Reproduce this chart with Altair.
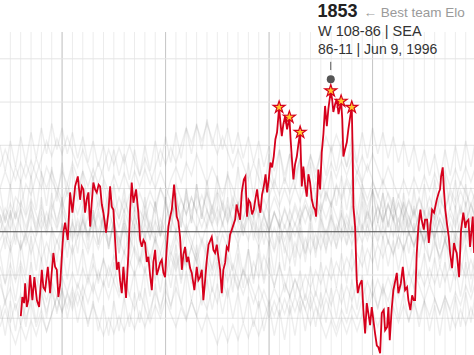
import altair as alt
import pandas as pd

X_DOMAIN = [1964.0, 2009.8]
Y_DOMAIN = [1215, 1962]

MINOR_YEARS = list(range(1965, 2010))
MAJOR_YEARS = [1970, 1980, 1990, 2000]
GRID_ELO = [1300, 1400, 1600, 1700, 1800, 1900]
BASE_ELO = [1500]

RED_YEAR = [
    1966.01, 1966.16, 1966.33, 1966.43, 1966.59, 1966.74, 1966.91, 1967.13, 1967.32, 1967.56,
    1967.78, 1968.04, 1968.19, 1968.36, 1968.62, 1968.84, 1969.00, 1969.16, 1969.32, 1969.49,
    1969.64, 1969.81, 1969.97, 1970.13, 1970.29, 1970.55, 1970.77, 1971.00, 1971.26, 1971.52,
    1971.74, 1971.90, 1972.06, 1972.22, 1972.37, 1972.54, 1972.71, 1972.85, 1973.02, 1973.19,
    1973.35, 1973.53, 1973.67, 1973.84, 1973.99, 1974.25, 1974.47, 1974.64, 1974.80, 1974.96,
    1975.12, 1975.29, 1975.46, 1975.60, 1975.77, 1975.92, 1976.18, 1976.41, 1976.57, 1976.73,
    1976.89, 1977.15, 1977.37, 1977.54, 1977.70, 1977.86, 1978.02, 1978.18, 1978.34, 1978.50,
    1978.67, 1978.82, 1978.99, 1979.15, 1979.30, 1979.47, 1979.63, 1979.79, 1979.95, 1980.10,
    1980.27, 1980.43, 1980.60, 1980.82, 1981.08, 1981.24, 1981.40, 1981.57, 1981.72, 1981.88,
    1982.05, 1982.20, 1982.37, 1982.53, 1982.78, 1983.01, 1983.17, 1983.33, 1983.50, 1983.65,
    1983.82, 1983.98, 1984.15, 1984.46, 1984.62, 1984.78, 1984.95, 1985.10, 1985.27, 1985.43,
    1985.58, 1985.75, 1985.91, 1986.07, 1986.23, 1986.40, 1986.55, 1986.72, 1986.86, 1987.03,
    1987.20, 1987.36, 1987.56, 1987.71, 1987.87, 1988.02, 1988.19, 1988.36, 1988.52, 1988.70,
    1988.84, 1989.01, 1989.16, 1989.32, 1989.49, 1989.66, 1989.81, 1989.97, 1990.13, 1990.29,
    1990.45, 1990.61, 1990.77, 1990.97, 1991.11, 1991.23, 1991.38, 1991.55, 1991.74, 1991.96,
    1992.08, 1992.19, 1992.35, 1992.51, 1992.68, 1992.83, 1993.00, 1993.16, 1993.31, 1993.48,
    1993.64, 1993.80, 1993.96, 1994.13, 1994.28, 1994.44, 1994.54, 1994.66, 1994.76, 1994.93,
    1995.09, 1995.25, 1995.41, 1995.58, 1995.73, 1995.96, 1996.09, 1996.21, 1996.38, 1996.54,
    1996.71, 1996.96, 1997.07, 1997.18, 1997.34, 1997.51, 1997.66, 1997.83, 1997.99, 1998.07,
    1998.15, 1998.31, 1998.47, 1998.57, 1998.74, 1998.96, 1999.11, 1999.28, 1999.44, 1999.59,
    1999.76, 1999.92, 2000.08, 2000.24, 2000.41, 2000.56, 2000.73, 2000.89, 2001.08, 2001.21,
    2001.40, 2001.53, 2001.66, 2001.84, 2002.01, 2002.17, 2002.34, 2002.49, 2002.73, 2002.92,
    2003.14, 2003.33, 2003.46, 2003.65, 2003.82, 2003.98, 2004.11, 2004.27, 2004.43, 2004.62,
    2004.74, 2004.95, 2005.07, 2005.27, 2005.43, 2005.60, 2005.75, 2005.94, 2006.20, 2006.40,
    2006.52, 2006.62, 2006.78, 2006.89, 2007.03, 2007.20, 2007.36, 2007.49, 2007.68, 2007.87,
    2008.02, 2008.13, 2008.36, 2008.55, 2008.77, 2008.97, 2009.08, 2009.26, 2009.42, 2009.68,
    2009.81,
]
RED_ELO = [
    1305, 1349, 1335, 1381, 1326, 1342, 1400, 1342, 1395, 1342,
    1326, 1412, 1372, 1365, 1419, 1358, 1407, 1451, 1419, 1412,
    1349, 1377, 1442, 1500, 1521, 1481, 1591, 1544, 1605, 1628,
    1574, 1605, 1598, 1544, 1574, 1591, 1512, 1563, 1614, 1598,
    1591, 1609, 1605, 1563, 1544, 1498, 1544, 1605, 1558, 1551,
    1481, 1412, 1430, 1388, 1358, 1419, 1347, 1451, 1551, 1614,
    1567, 1598, 1544, 1481, 1465, 1481, 1474, 1430, 1442, 1400,
    1365, 1430, 1458, 1400, 1412, 1428, 1435, 1405, 1395, 1458,
    1512, 1533, 1551, 1609, 1535, 1523, 1488, 1412, 1447, 1465,
    1430, 1442, 1416, 1405, 1365, 1419, 1388, 1395, 1412, 1342,
    1388, 1435, 1470, 1488, 1458, 1451, 1470, 1442, 1412, 1358,
    1412, 1428, 1465, 1458, 1493, 1505, 1516, 1528, 1563, 1544,
    1528, 1591, 1621, 1628, 1535, 1574, 1567, 1540, 1551, 1579,
    1598, 1563, 1544, 1586, 1605, 1633, 1591, 1621, 1660, 1649,
    1674, 1714, 1730, 1788, 1749, 1721, 1749, 1767, 1737, 1765,
    1714, 1674, 1621, 1656, 1674, 1702, 1730, 1605, 1651, 1609,
    1581, 1633, 1614, 1574, 1558, 1551, 1535, 1586, 1644, 1598,
    1684, 1726, 1791, 1744, 1784, 1826, 1807, 1777, 1795, 1807,
    1772, 1802, 1761, 1674, 1691, 1707, 1737, 1765, 1788, 1691,
    1558, 1512, 1388, 1358, 1377, 1388, 1319, 1265, 1335, 1312,
    1284, 1326, 1295, 1265, 1237, 1233, 1219, 1312, 1319, 1272,
    1279, 1326, 1249, 1319, 1365, 1384, 1405, 1358, 1381, 1419,
    1365, 1372, 1342, 1319, 1353, 1342, 1342, 1451, 1512, 1551,
    1528, 1505, 1528, 1528, 1474, 1516, 1551, 1544, 1574, 1591,
    1598, 1628, 1649, 1598, 1551, 1516, 1488, 1451, 1416, 1474,
    1458, 1451, 1395, 1505, 1544, 1509, 1523, 1528, 1465, 1535,
    1451,
]

STAR_YEAR = [1990.97, 1991.96, 1993.00, 1995.96, 1996.96, 1997.99]
STAR_ELO = [1788, 1765, 1730, 1826, 1802, 1788]

PEAK_YEAR = [1995.96]
PEAK_ELO = [1853]
PEAK_TICK = [1874, 1893]

TITLE_NUM = "1853"
TITLE_NOTE = "← Best team Elo"
LINE_2 = "W 108-86 | SEA"
LINE_3 = "86-11 | Jun 9, 1996"

GRAY_YEARS = [1964.0 + 0.5 * i for i in range(93)]
GRAY_A = [1520,1555,1530,1580,1560,1610,1585,1630,1600,1650,1620,1590,1640,1610,1660,1625,1600,1570,1610,1580,1545,1590,1560,1530,1575,1540,1510,1550,1525,1570,1545,1600,1575,1620,1650,1615,1660,1630,1680,1645,1610,1650,1620,1585,1630,1600,1560,1600,1570,1530,1570,1540,1500,1545,1515,1480,1520,1490,1530,1560,1530,1575,1545,1590,1560,1610,1580,1625,1595,1640,1610,1575,1615,1585,1550,1590,1560,1525,1565,1535,1500,1540,1515,1555,1530,1575,1550,1600,1570,1615,1590,1560,1600]
GRAY_B = [1380,1340,1370,1320,1355,1300,1335,1280,1320,1270,1310,1350,1315,1360,1330,1380,1345,1395,1360,1410,1375,1420,1385,1350,1390,1355,1320,1360,1325,1290,1330,1300,1345,1310,1280,1325,1295,1340,1305,1350,1320,1370,1335,1385,1350,1400,1365,1415,1380,1430,1395,1445,1410,1375,1420,1385,1350,1390,1355,1320,1365,1330,1300,1345,1310,1275,1320,1290,1330,1300,1345,1315,1360,1325,1370,1340,1385,1350,1395,1365,1410,1375,1340,1380,1345,1310,1350,1320,1360,1330,1375,1345,1390]
GRAY_C = [1480,1510,1470,1505,1460,1495,1450,1490,1530,1495,1540,1505,1550,1515,1480,1520,1485,1450,1495,1460,1500,1470,1515,1480,1525,1490,1535,1500,1545,1510,1475,1515,1480,1445,1490,1455,1500,1465,1510,1475,1520,1560,1525,1570,1535,1580,1545,1510,1550,1515,1480,1520,1490,1455,1500,1465,1430,1475,1440,1485,1450,1495,1460,1505,1470,1515,1480,1525,1490,1535,1500,1545,1510,1475,1515,1480,1445,1490,1455,1500,1465,1510,1475,1520,1485,1530,1495,1460,1500,1470,1510,1480,1520]
GRAY_D = [1600,1640,1605,1650,1615,1660,1625,1670,1635,1600,1640,1605,1570,1610,1575,1540,1580,1545,1510,1550,1515,1480,1520,1485,1450,1490,1455,1420,1460,1425,1390,1430,1400,1440,1410,1450,1420,1465,1430,1475,1440,1485,1450,1495,1460,1505,1470,1515,1480,1525,1490,1535,1500,1545,1510,1555,1520,1565,1530,1575,1540,1585,1550,1595,1560,1605,1570,1615,1580,1625,1590,1555,1595,1560,1525,1565,1530,1495,1535,1500,1465,1505,1470,1435,1475,1440,1480,1450,1490,1460,1500,1470,1510]
GRAY_E = [1300,1340,1290,1335,1285,1330,1370,1330,1375,1340,1385,1350,1395,1360,1405,1370,1415,1380,1425,1390,1435,1400,1445,1410,1455,1420,1465,1430,1475,1440,1485,1450,1495,1460,1505,1470,1515,1480,1445,1485,1450,1415,1455,1420,1385,1425,1390,1355,1395,1360,1325,1365,1330,1370,1340,1380,1350,1390,1360,1400,1370,1410,1380,1420,1390,1430,1400,1440,1410,1450,1420,1460,1430,1470,1440,1480,1450,1490,1460,1500,1470,1510,1480,1520,1490,1530,1500,1540,1510,1550,1520,1560,1530]
GRAY_F = [1450,1490,1455,1495,1460,1500,1540,1505,1545,1510,1550,1590,1555,1595,1560,1600,1640,1605,1645,1610,1650,1690,1655,1695,1660,1700,1665,1630,1670,1635,1600,1640,1605,1570,1610,1575,1540,1580,1545,1510,1550,1515,1480,1520,1485,1525,1490,1530,1570,1535,1575,1540,1580,1620,1585,1625,1590,1630,1670,1635,1675,1640,1680,1720,1685,1725,1690,1650,1690,1655,1615,1655,1620,1580,1620,1585,1545,1585,1550,1510,1550,1515,1475,1515,1480,1440,1480,1445,1485,1450,1490,1455,1495]
GRAY_G = [1560,1525,1565,1530,1570,1535,1575,1540,1505,1545,1510,1475,1515,1480,1520,1485,1525,1490,1530,1570,1535,1575,1540,1580,1545,1585,1550,1590,1555,1595,1560,1600,1565,1530,1570,1535,1500,1540,1505,1545,1510,1550,1515,1555,1520,1560,1525,1565,1530,1570,1535,1575,1540,1580,1545,1510,1550,1515,1555,1520,1560,1525,1565,1530,1570,1535,1500,1540,1505,1545,1510,1550,1515,1555,1520,1560,1525,1565,1530,1570,1535,1575,1540,1580,1545,1585,1550,1590,1555,1595,1560,1600,1565]
GRAY_H = [1420,1380,1425,1385,1430,1390,1350,1395,1355,1315,1360,1320,1365,1325,1370,1330,1375,1335,1380,1340,1385,1345,1390,1430,1395,1435,1400,1440,1405,1445,1410,1450,1415,1455,1420,1460,1425,1465,1430,1395,1435,1400,1440,1405,1445,1410,1370,1410,1375,1335,1375,1340,1300,1340,1305,1345,1310,1350,1315,1355,1320,1360,1325,1365,1330,1370,1335,1375,1340,1380,1345,1385,1350,1390,1355,1395,1360,1400,1365,1405,1370,1410,1375,1415,1380,1420,1385,1425,1390,1430,1395,1435,1400]
GRAY_I = [1500,1540,1505,1545,1510,1470,1510,1475,1435,1475,1440,1480,1445,1485,1450,1490,1530,1495,1535,1500,1540,1505,1545,1510,1550,1515,1555,1520,1485,1525,1490,1530,1495,1535,1500,1540,1580,1545,1585,1550,1590,1555,1595,1560,1525,1565,1530,1495,1535,1500,1465,1505,1470,1510,1475,1515,1480,1520,1485,1450,1490,1455,1495,1460,1500,1465,1505,1470,1510,1475,1515,1480,1520,1560,1525,1565,1530,1570,1535,1575,1540,1580,1545,1510,1550,1515,1480,1520,1485,1525,1490,1530,1495]
GRAY_J = [1650,1690,1655,1620,1660,1625,1665,1630,1670,1710,1675,1715,1680,1720,1685,1650,1690,1655,1620,1660,1625,1590,1630,1595,1635,1600,1640,1605,1645,1610,1650,1690,1655,1695,1660,1700,1740,1705,1745,1710,1750,1715,1680,1720,1685,1650,1690,1655,1620,1660,1625,1590,1630,1595,1560,1600,1565,1605,1570,1610,1575,1615,1580,1620,1660,1625,1665,1630,1670,1635,1675,1640,1680,1645,1610,1650,1615,1580,1620,1585,1625,1590,1630,1595,1635,1600,1640,1605,1645,1610,1650,1615,1655]
GRAY_K = [1280,1320,1275,1240,1285,1250,1295,1260,1305,1270,1310,1350,1315,1355,1320,1360,1325,1290,1330,1295,1260,1300,1265,1305,1270,1310,1275,1315,1280,1320,1360,1325,1365,1330,1370,1335,1300,1340,1305,1270,1310,1275,1240,1280,1245,1285,1250,1290,1255,1295,1260,1300,1340,1305,1345,1310,1350,1315,1355,1320,1285,1325,1290,1255,1295,1260,1300,1265,1305,1270,1310,1275,1315,1280,1320,1285,1325,1290,1330,1295,1335,1300,1340,1305,1345,1310,1350,1315,1280,1320,1285,1325,1290]
GRAY_L = [1540,1500,1545,1505,1550,1510,1555,1515,1560,1520,1565,1525,1570,1530,1490,1530,1495,1535,1500,1540,1505,1545,1510,1470,1510,1475,1515,1480,1520,1485,1525,1490,1530,1570,1535,1575,1540,1580,1545,1585,1550,1515,1555,1520,1560,1525,1565,1530,1570,1535,1500,1540,1505,1545,1510,1550,1515,1555,1520,1560,1525,1565,1530,1495,1535,1500,1540,1505,1470,1510,1475,1515,1480,1520,1485,1525,1490,1530,1495,1535,1500,1540,1505,1545,1510,1550,1515,1555,1520,1560,1525,1565,1530]
GRAY_M = [1450,1380,1470,1390,1480,1400,1490,1410,1500,1420,1510,1430,1520,1440,1530,1450,1540,1460,1550,1470,1540,1460,1530,1450,1520,1440,1510,1430,1500,1420,1490,1410,1480,1400,1470,1390,1460,1380,1450,1370,1440,1360,1430,1350,1440,1360,1450,1370,1460,1380,1470,1390,1480,1400,1490,1410,1500,1420,1510,1430,1520,1440,1530,1450,1540,1460,1550,1470,1560,1480,1570,1490,1560,1480,1550,1470,1540,1460,1530,1450,1520,1440,1510,1430,1500,1420,1490,1410,1480,1400,1470,1390,1460]
GRAY_N = [1600,1520,1610,1530,1620,1540,1630,1550,1640,1560,1650,1570,1660,1580,1650,1570,1640,1560,1630,1550,1620,1540,1610,1530,1600,1520,1590,1510,1580,1500,1570,1490,1580,1500,1590,1510,1600,1520,1610,1530,1620,1540,1630,1550,1640,1560,1650,1570,1660,1580,1670,1590,1680,1600,1690,1610,1680,1600,1670,1590,1660,1580,1650,1570,1640,1560,1630,1550,1620,1540,1610,1530,1600,1520,1590,1510,1580,1500,1590,1510,1600,1520,1610,1530,1620,1540,1630,1550,1620,1540,1610,1530,1600]
GRAY_O = [1330,1260,1340,1270,1350,1280,1360,1290,1370,1300,1380,1310,1370,1300,1360,1290,1350,1280,1340,1270,1330,1260,1340,1270,1350,1280,1360,1290,1370,1300,1380,1310,1390,1320,1400,1330,1410,1340,1400,1330,1390,1320,1380,1310,1370,1300,1360,1290,1350,1280,1340,1270,1330,1260,1320,1250,1330,1260,1340,1270,1350,1280,1360,1290,1370,1300,1380,1310,1390,1320,1400,1330,1390,1320,1380,1310,1370,1300,1360,1290,1350,1280,1340,1270,1330,1260,1340,1270,1350,1280,1360,1290,1370]
GRAY_P = [1540,1460,1550,1470,1560,1480,1570,1490,1580,1500,1590,1510,1580,1500,1570,1490,1560,1480,1550,1470,1540,1460,1530,1450,1540,1460,1550,1470,1560,1480,1570,1490,1580,1500,1590,1510,1600,1520,1610,1530,1600,1520,1590,1510,1580,1500,1570,1490,1560,1480,1550,1470,1540,1460,1530,1450,1520,1440,1530,1450,1540,1460,1550,1470,1560,1480,1570,1490,1580,1500,1590,1510,1600,1520,1590,1510,1580,1500,1570,1490,1560,1480,1550,1470,1540,1460,1550,1470,1560,1480,1570,1490,1580]
GRAY_Q = [1700,1640,1710,1650,1720,1660,1730,1670,1740,1680,1750,1690,1740,1680,1730,1670,1720,1660,1710,1650,1700,1640,1690,1630,1680,1620,1690,1630,1700,1640,1710,1650,1720,1660,1730,1670,1740,1680,1750,1690,1760,1700,1750,1690,1740,1680,1730,1670,1720,1660,1710,1650,1700,1640,1690,1630,1680,1620,1670,1610,1680,1620,1690,1630,1700,1640,1710,1650,1720,1660,1730,1670,1740,1680,1730,1670,1720,1660,1710,1650,1700,1640,1690,1630,1680,1620,1690,1630,1700,1640,1710,1650,1720]
GRAY_R = [1400,1330,1410,1340,1420,1350,1430,1360,1440,1370,1450,1380,1460,1390,1470,1400,1460,1390,1450,1380,1440,1370,1430,1360,1420,1350,1410,1340,1420,1350,1430,1360,1440,1370,1450,1380,1460,1390,1470,1400,1480,1410,1490,1420,1480,1410,1470,1400,1460,1390,1450,1380,1440,1370,1430,1360,1420,1350,1410,1340,1420,1350,1430,1360,1440,1370,1450,1380,1460,1390,1470,1400,1480,1410,1490,1420,1480,1410,1470,1400,1460,1390,1450,1380,1440,1370,1430,1360,1420,1350,1430,1360,1440]

GRAY_SERIES = {
    "A": GRAY_A, "B": GRAY_B, "C": GRAY_C, "D": GRAY_D, "E": GRAY_E, "F": GRAY_F,
    "G": GRAY_G, "H": GRAY_H, "I": GRAY_I, "J": GRAY_J, "K": GRAY_K, "L": GRAY_L,
    "M": GRAY_M, "N": GRAY_N, "O": GRAY_O, "P": GRAY_P, "Q": GRAY_Q, "R": GRAY_R,
}

STAR_PATH = ("M0,-1L0.2234,-0.3074L0.9511,-0.309L0.3614,0.1174L0.5878,0.809L0,0.38"
             "L-0.5878,0.809L-0.3614,0.1174L-0.9511,-0.309L-0.2234,-0.3074Z")

# ---- tables ----
gray_rows = []
for team, vals in GRAY_SERIES.items():
    for yr, v in zip(GRAY_YEARS, vals):
        gray_rows.append({"team": team, "year": yr, "elo": v})
gray_df = pd.DataFrame(gray_rows)
red_df = pd.DataFrame({"year": RED_YEAR, "elo": RED_ELO})
star_df = pd.DataFrame({"year": STAR_YEAR, "elo": STAR_ELO})
peak_df = pd.DataFrame({"year": PEAK_YEAR, "elo": PEAK_ELO})
tick_df = pd.DataFrame({"year": PEAK_YEAR, "elo": [PEAK_TICK[0]], "elo2": [PEAK_TICK[1]]})

text_df = pd.DataFrame({
    "year": [1994.68, 1999.12, 1994.72, 1994.72],
    "elo": [1996, 1996, 1952, 1910],
    "label": [TITLE_NUM, TITLE_NOTE, LINE_2, LINE_3],
    "kind": ["num", "note", "l2", "l3"],
})

xs = alt.Scale(domain=X_DOMAIN, nice=False, zero=False)
ys = alt.Scale(domain=Y_DOMAIN, nice=False, zero=False)
X = alt.X("year:Q", scale=xs, axis=None)
Y = alt.Y("elo:Q", scale=ys, axis=None)

minor = alt.Chart(pd.DataFrame({"year": MINOR_YEARS})).mark_rule(
    color="#ececec", strokeWidth=1).encode(x=X)
major = alt.Chart(pd.DataFrame({"year": MAJOR_YEARS})).mark_rule(
    color="#c6c6c6", strokeWidth=1).encode(x=X)
hgrid = alt.Chart(pd.DataFrame({"elo": GRID_ELO})).mark_rule(
    color="#e4e4e4", strokeWidth=1).encode(y=Y)
gray = alt.Chart(gray_df).mark_line(
    color="#707070", opacity=0.12, strokeWidth=1.4).encode(x=X, y=Y, detail="team:N")
base = alt.Chart(pd.DataFrame({"elo": BASE_ELO})).mark_rule(
    color="#444444", strokeWidth=1.2).encode(y=Y)
red = alt.Chart(red_df).mark_line(
    color="#d6001c", strokeWidth=1.8).encode(x=X, y=Y)
stars = alt.Chart(star_df).mark_point(
    shape=STAR_PATH, filled=True, fill="#ffc72c", stroke="#d6001c",
    strokeWidth=1.2, size=160, opacity=1).encode(x=X, y=Y)
tick = alt.Chart(tick_df).mark_rule(color="#555555", strokeWidth=1).encode(
    x=X, y=Y, y2="elo2:Q")
dot = alt.Chart(peak_df).mark_point(
    shape="circle", filled=True, color="#555555", size=64, opacity=1).encode(x=X, y=Y)

def txt(kind, size, weight, color):
    return alt.Chart(text_df).transform_filter(
        alt.datum.kind == kind
    ).mark_text(
        align="left", baseline="alphabetic", font="Liberation Sans",
        fontSize=size, fontWeight=weight, color=color
    ).encode(x=X, y=Y, text="label:N")

t1 = txt("num", 18, "bold", "#222222")
t2 = txt("note", 13.5, "normal", "#9a9a9a")
t3 = txt("l2", 14.5, "normal", "#333333")
t4 = txt("l3", 14, "normal", "#333333")

chart = alt.layer(
    minor, major, hgrid, gray, base, red, stars, tick, dot, t1, t2, t3, t4
).properties(
    width=474, height=323,
    autosize=alt.AutoSizeParams(type="none"),
    padding={"left": 0, "right": 0, "top": 32, "bottom": 0},
    background="white",
).configure_view(stroke=None)

chart.save("out.html", embed_options={"renderer": "svg", "actions": False})
